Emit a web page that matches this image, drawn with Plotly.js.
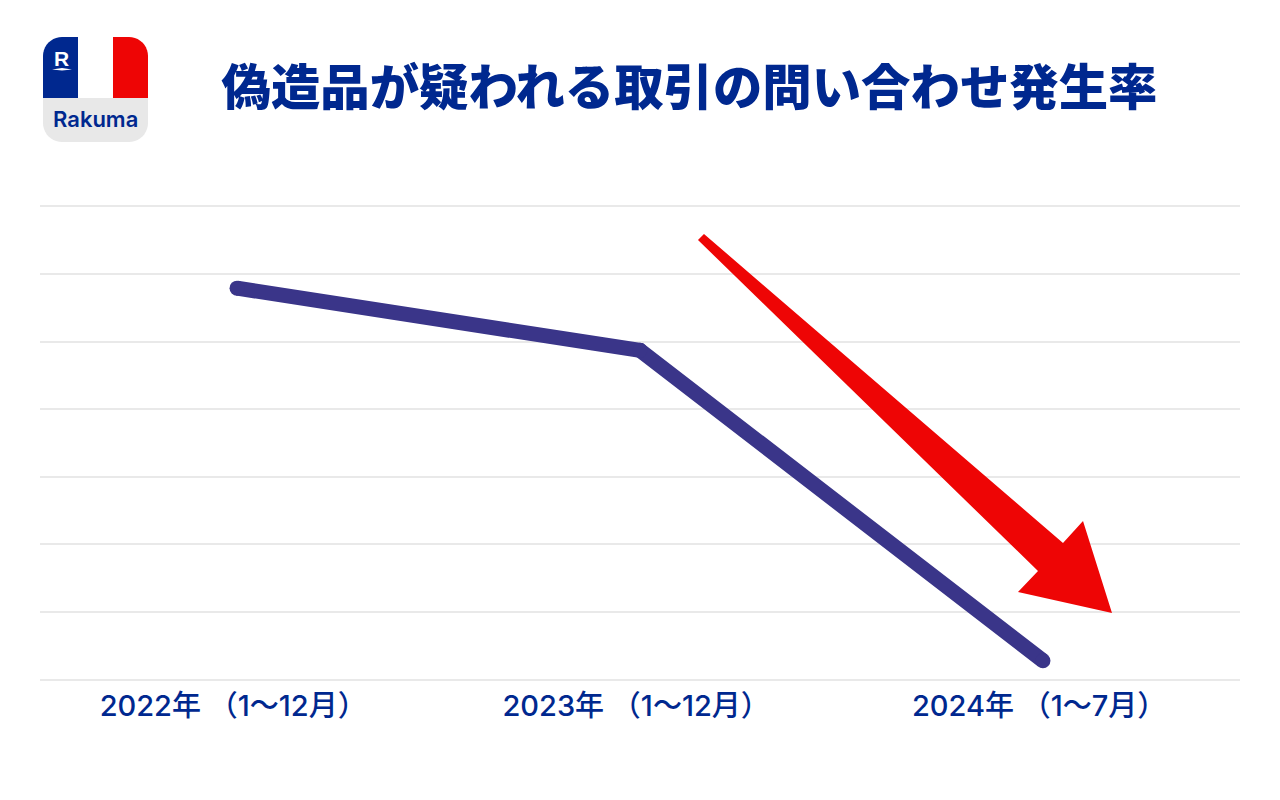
<!DOCTYPE html>
<html><head><meta charset="utf-8">
<script src="https://cdn.plot.ly/plotly-3.0.1.min.js"></script>
<style>html,body{margin:0;padding:0;background:#fff}#c{width:1280px;height:800px}</style>
</head><body><div id="c"></div>
<script>
const periods = ['2022年 （1～12月）\u00a0', '2023年 （1～12月）\u00a0', '2024年 （1～7月）\u00a0'];
const rates = [5.79, 4.87, 0.28];
const titleText = '偽造品が疑われる取引の問い合わせ発生率';
const navy = '#00288f', lineColor = '#3a3589', red = '#ee0505', grid = '#e9e9e9';
const W = 1280, H = 800, L = 40, R = 40, T = 205, B = 119;
const px = x => (x - L) / (W - L - R);
const py = y => 1 - (y - T) / (H - T - B);
function poly(pts, fill) {
  return {type:'path', xref:'paper', yref:'paper', layer:'above', line:{width:0}, fillcolor:fill,
    path:'M' + pts.map(p => px(p[0]).toFixed(5) + ',' + py(p[1]).toFixed(5)).join(' L') + ' Z'};
}
function arcPts(cx, cy, r, a0, a1) {
  const out = [];
  for (let i = 0; i <= 10; i++) {
    const a = (a0 + (a1 - a0) * i / 10) * Math.PI / 180;
    out.push([cx + r * Math.cos(a), cy + r * Math.sin(a)]);
  }
  return out;
}
const lx0 = 43, lx1 = 148, ly0 = 37, ly1 = 142, lm = 98, lr = 19;
const shapes = [
  poly([[lx0, lm], [lx1, lm], ...arcPts(lx1 - lr, ly1 - lr, lr, 0, 90), ...arcPts(lx0 + lr, ly1 - lr, lr, 90, 180)], '#e8e8e8'),
  poly([[78, ly0], ...arcPts(lx0 + lr, ly0 + lr, lr, 270, 180), [lx0, lm], [78, lm]], '#00288f'),
  poly([[113, ly0], ...arcPts(lx1 - lr, ly0 + lr, lr, 270, 360), [lx1, lm], [113, lm]], '#ee0505'),
  poly([[52, 69.5], [62, 68], [72, 69.5], [62, 70.6]], '#ffffff'),
  poly([[698, 240], [704, 234], [1063, 543], [1083, 521], [1112, 613], [1018, 592], [1038, 571]], red)
];
const annotations = [
  {xref:'paper', yref:'paper', x:px(61), y:py(58), xanchor:'center', yanchor:'middle', text:'<b>R</b>', showarrow:false,
   font:{family:'"Liberation Sans", Arial, sans-serif', size:21, color:'#ffffff'}},
  {xref:'paper', yref:'paper', x:px(95.5), y:py(119), xanchor:'center', yanchor:'middle', text:'Rakuma', showarrow:false,
   font:{family:'Inter, sans-serif', size:22, color:navy, weight:600}}
];
const trace = {
  x: periods, y: rates, type:'scatter', mode:'lines+markers', cliponaxis:false,
  line:{color:lineColor, width:15},
  marker:{color:lineColor, size:15},
  hoverinfo:'skip'
};
const layout = {
  width:W, height:H, paper_bgcolor:'#fff', plot_bgcolor:'#fff', showlegend:false,
  margin:{l:L, r:R, t:T, b:B, pad:0},
  title:{text:titleText, xref:'paper', yref:'container', x:px(689.5), xanchor:'center', y:1-88/800, yanchor:'middle',
    font:{family:'"Noto Sans CJK JP", sans-serif', size:49.4, color:navy, weight:900}},
  xaxis:{type:'category', range:[-0.489, 2.489], showgrid:false, zeroline:false, showline:false,
    ticks:'', ticklabelstandoff:5, tickfont:{family:'Inter, "Noto Sans CJK JP", sans-serif', size:29, color:navy, weight:500}, fixedrange:true},
  yaxis:{range:[-0.02, 7.02], tickmode:'array', tickvals:[0,1,2,3,4,5,6,7], showgrid:true, gridcolor:grid, gridwidth:2, zeroline:false, showline:false,
    ticks:'', showticklabels:false, fixedrange:true},
  shapes, annotations
};
Plotly.newPlot('c', [trace], layout, {displayModeBar:false, staticPlot:true});
</script></body></html>
